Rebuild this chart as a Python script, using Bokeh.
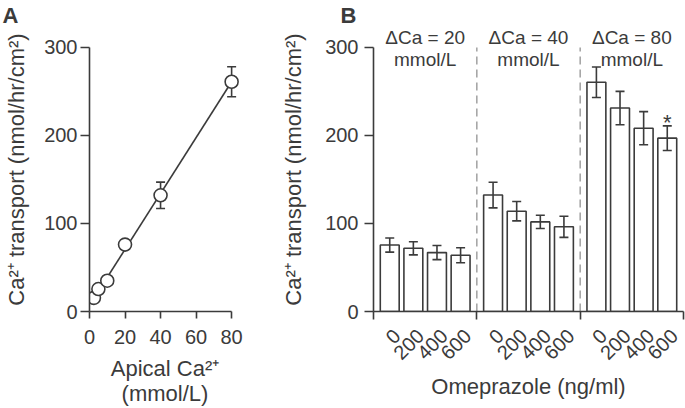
import math
from bokeh.plotting import figure
from bokeh.layouts import row
from bokeh.models import Range1d, FixedTicker, CustomJSTickFormatter
from bokeh.embed import file_html
from bokeh.resources import INLINE
from bokeh.core.properties import value

FONT = "Liberation Sans"
INK = "#3b3b3b"
DASH = "#9a9a9a"

# ---------------- Panel A data ----------------
apical_ca = [2.5, 5, 10, 20, 40, 80]
transport_a = [15.5, 25.5, 35, 76, 132, 261]
sem_a = [3, 3, 4, 5, 15, 17]
fit_x = [2.5, 80]
fit_y = [15, 261]
x_ticks_a = [0, 20, 40, 60, 80]
y_ticks = [0, 100, 200, 300]

# ---------------- Panel B data ----------------
delta_ca = ["20", "40", "80"]
omeprazole = ["0", "200", "400", "600"]
transport_20 = [75.5, 71.8, 66.9, 63.9]
transport_40 = [132.3, 113.9, 101.8, 96.2]
transport_80 = [260.4, 231.1, 208.2, 196.9]
sem_20 = [8, 7.5, 8, 8.5]
sem_40 = [14.6, 11, 7.5, 12]
sem_80 = [17.3, 19, 18.8, 14]
significant = [(2, 3)]  # (group index, dose index)

Y_TITLE = "Ca\u00b2\u207a transport (nmol/hr/cm\u00b2)"
Y_END = 322.6


def style(p, letter, letter_offset):
    p.grid.visible = False
    p.outline_line_color = None
    p.background_fill_color = "white"
    p.border_fill_color = "white"
    p.title.text = letter
    p.title.align = "left"
    p.title.offset = letter_offset
    p.title.standoff = 0
    p.title.text_font = FONT
    p.title.text_font_size = "22px"
    p.title.text_font_style = "bold"
    p.title.text_color = INK
    for ax in p.axis:
        ax.axis_line_color = INK
        ax.axis_line_width = 1.6
        ax.major_tick_line_color = INK
        ax.major_tick_line_width = 1.6
        ax.major_tick_in = 0
        ax.minor_tick_line_color = None
        ax.major_label_text_font = FONT
        ax.major_label_text_font_size = "20px"
        ax.major_label_text_color = INK
        ax.axis_label_text_font = FONT
        ax.axis_label_text_font_size = "22px"
        ax.axis_label_text_font_style = "normal"
        ax.axis_label_text_color = INK


# ================= Panel A =================
pA = figure(width=275, height=408, x_range=Range1d(0, 85), y_range=Range1d(0, Y_END),
            output_backend="svg", toolbar_location=None,
            min_border_left=89, min_border_right=35, min_border_top=26, min_border_bottom=96)
style(pA, "A", -87)
lo_a = [v - e for v, e in zip(transport_a, sem_a)]
hi_a = [v + e for v, e in zip(transport_a, sem_a)]
pA.line(fit_x, fit_y, line_color=INK, line_width=1.6)
pA.segment(x0=apical_ca, y0=lo_a, x1=apical_ca, y1=hi_a, line_color=INK, line_width=1.6)
pA.scatter(apical_ca, hi_a, marker="dash", size=9, line_color=INK, line_width=1.6)
pA.scatter(apical_ca, lo_a, marker="dash", size=9, line_color=INK, line_width=1.6)
pA.scatter(apical_ca, transport_a, marker="circle", size=13, fill_color="white",
           line_color=INK, line_width=1.6)

pA.xaxis.ticker = FixedTicker(ticks=x_ticks_a)
pA.xaxis.bounds = (x_ticks_a[0], x_ticks_a[-1])
pA.xaxis.major_tick_out = 7
pA.xaxis.major_label_standoff = 11
pA.xaxis.axis_label = "Apical Ca\u00b2\u207a\n(mmol/L)"
pA.xaxis.axis_label_standoff = 9
pA.xaxis.axis_label_text_line_height = 1.0

pA.yaxis.ticker = FixedTicker(ticks=y_ticks)
pA.yaxis.bounds = (y_ticks[0], y_ticks[-1])
pA.yaxis.major_tick_out = 9
pA.yaxis.major_label_standoff = 3
pA.yaxis.axis_label = Y_TITLE
pA.yaxis.axis_label_standoff = 12

# ================= Panel B =================
n_groups = len(delta_ca)
n_doses = len(omeprazole)
group_w = 4.375
first = 0.6875
values = [transport_20, transport_40, transport_80]
sems = [sem_20, sem_40, sem_80]
xs, tops, errs = [], [], []
for g in range(n_groups):
    for j in range(n_doses):
        xs.append(g * group_w + first + j)
        tops.append(values[g][j])
        errs.append(sems[g][j])
boundaries = [g * group_w for g in range(n_groups + 1)]
centers = [g * group_w + group_w / 2 for g in range(n_groups)]

pB = figure(width=410, height=408, x_range=Range1d(0, boundaries[-1]), y_range=Range1d(0, Y_END),
            output_backend="svg", toolbar_location=None,
            min_border_left=98, min_border_right=2, min_border_top=26, min_border_bottom=96)
style(pB, "B", -33)
pB.vbar(x=xs, top=tops, bottom=0, width=0.8, fill_color="white", line_color=INK, line_width=1.6)
lo_b = [v - e for v, e in zip(tops, errs)]
hi_b = [v + e for v, e in zip(tops, errs)]
pB.segment(x0=xs, y0=lo_b, x1=xs, y1=hi_b, line_color=INK, line_width=1.6)
pB.scatter(xs, hi_b, marker="dash", size=9, line_color=INK, line_width=1.6)
pB.scatter(xs, lo_b, marker="dash", size=9, line_color=INK, line_width=1.6)

inner = boundaries[1:-1]
pB.segment(x0=inner, y0=[y_ticks[0]] * len(inner), x1=inner, y1=[y_ticks[-1]] * len(inner),
           line_color=DASH, line_width=1.4, line_dash="8 5")

pB.text(x=centers, y=[311] * n_groups, text=["\u0394Ca = " + d for d in delta_ca],
        text_font=value(FONT), text_font_size="19px", text_color=INK,
        text_align="center", text_baseline="middle")
pB.text(x=centers, y=[286] * n_groups, text=["mmol/L"] * n_groups,
        text_font=value(FONT), text_font_size="19px", text_color=INK,
        text_align="center", text_baseline="middle")

sx = [xs[g * n_doses + j] for g, j in significant]
sy = [hi_b[g * n_doses + j] for g, j in significant]
pB.text(x=sx, y=sy, text=["*"] * len(sx), text_font=value(FONT), text_font_size="22px",
        text_color=INK, text_align="center", text_baseline="alphabetic", y_offset=-3)

pB.xaxis.ticker = FixedTicker(ticks=[x + 0.3 for x in xs], minor_ticks=boundaries)
pB.xaxis.formatter = CustomJSTickFormatter(args=dict(labels=omeprazole * n_groups),
                                           code="const s = labels[index]; return s == null ? '' : s;")
pB.xaxis.major_label_orientation = math.pi / 4
pB.xaxis.major_tick_out = 0
pB.xaxis.major_tick_line_color = None
pB.xaxis.minor_tick_out = 8
pB.xaxis.minor_tick_in = 0
pB.xaxis.minor_tick_line_color = INK
pB.xaxis.minor_tick_line_width = 1.6
pB.xaxis.major_label_standoff = 13
pB.xaxis.major_label_text_font_size = "20px"
pB.xaxis.axis_label = "Omeprazole (ng/ml)"
pB.xaxis.axis_label_standoff = 5

pB.yaxis.ticker = FixedTicker(ticks=y_ticks)
pB.yaxis.bounds = (y_ticks[0], y_ticks[-1])
pB.yaxis.major_tick_out = 9
pB.yaxis.major_label_standoff = 6
pB.yaxis.axis_label = Y_TITLE
pB.yaxis.axis_label_standoff = 16

layout = row(pA, pB)
open("out.html", "w").write(file_html(layout, INLINE))
